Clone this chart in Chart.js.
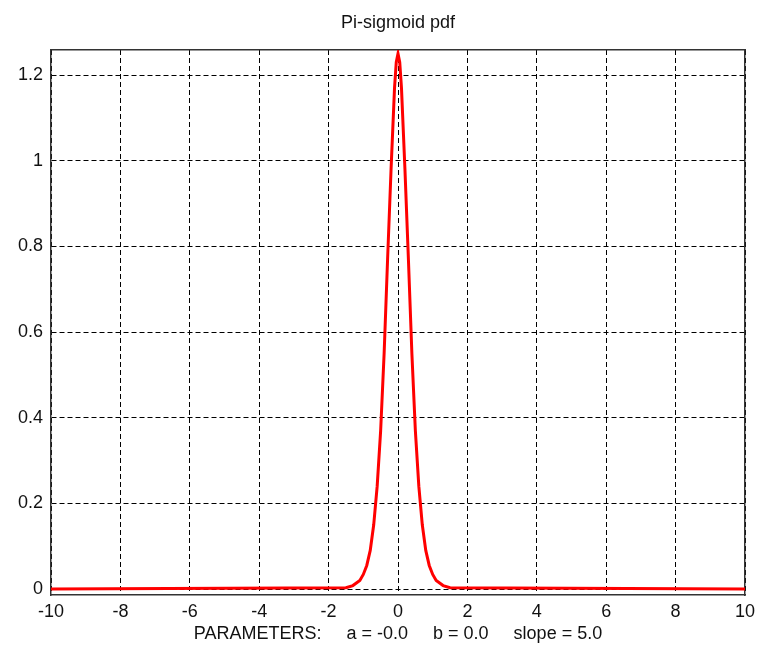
<!DOCTYPE html>
<html>
<head>
<meta charset="utf-8">
<script src="https://cdn.jsdelivr.net/npm/chart.js@4"></script>
<style>
  html, body { margin: 0; padding: 0; background: #fff; }
</style>
</head>
<body>
<canvas id="pdf" width="757" height="653"></canvas>
<script>
// density curve, sampled densely around the peak
const xs = [-10, -1.5, -1.3, -1.1, -1.0, -0.9, -0.8, -0.7, -0.6, -0.5, -0.4, -0.3, -0.2, -0.1, -0.05, 0,
            0.05, 0.1, 0.2, 0.3, 0.4, 0.5, 0.6, 0.7, 0.8, 0.9, 1.0, 1.1, 1.3, 1.5, 10];
const ys = [0, 0.003, 0.008, 0.02, 0.034, 0.055, 0.09, 0.15, 0.24, 0.37, 0.55, 0.77, 0.98, 1.17, 1.23, 1.25,
            1.23, 1.17, 0.98, 0.77, 0.55, 0.37, 0.24, 0.15, 0.09, 0.055, 0.034, 0.02, 0.008, 0.003, 0];

const yTicks = [0, 0.2, 0.4, 0.6, 0.8, 1, 1.2];
const chartTitle = 'Pi-sigmoid pdf';
const paramText = 'PARAMETERS:     a = -0.0     b = 0.0     slope = 5.0';

const fontFamily = "'Liberation Sans', Arial, sans-serif";
const textColor = '#111';
const frameColor = '#333';
const yMin = -0.014, yMax = 1.2585;

const points = xs.map((x, i) => ({ x: x, y: ys[i] }));

new Chart(document.getElementById('pdf'), {
    type: 'line',
    data: {
        datasets: [{
            data: points,
            borderColor: '#ff0000',
            borderWidth: 3,
            pointRadius: 0,
            tension: 0,
            fill: false
        }]
    },
    options: {
        responsive: false,
        animation: false,
        layout: { padding: { left: 0, right: 12, top: 0, bottom: 0 } },
        plugins: {
            legend: { display: false },
            tooltip: { enabled: false }
        },
        scales: {
            x: {
                type: 'linear',
                min: -10,
                max: 10,
                ticks: { stepSize: 2, padding: 6, maxRotation: 0, color: textColor, font: { family: fontFamily, size: 18 } },
                grid: { color: '#000', lineWidth: 1, drawTicks: false },
                border: { color: frameColor, width: 1.5, dash: [5, 3] },
                title: {
                    display: true,
                    text: paramText,
                    color: textColor,
                    font: { family: fontFamily, size: 18 },
                    padding: { top: 0, bottom: 8 }
                },
                // end labels may hang past the frame, don't shrink the plot for them
                afterFit: axis => {
                    axis.height = 58;
                    axis.paddingLeft = 0;
                    axis.paddingRight = 0;
                }
            },
            xTop: {
                type: 'linear',
                position: 'top',
                min: -10,
                max: 10,
                ticks: { display: false },
                grid: { display: false },
                border: { color: frameColor, width: 1.5 },
                title: {
                    display: true,
                    text: chartTitle,
                    color: textColor,
                    font: { family: fontFamily, size: 18 },
                    padding: { top: 12, bottom: 0 }
                },
                afterFit: axis => { axis.height = 50; }
            },
            y: {
                type: 'linear',
                min: yMin,
                max: yMax,
                afterBuildTicks: axis => { axis.ticks = yTicks.map(v => ({ value: v })); },
                ticks: {
                    padding: 8,
                    color: textColor,
                    font: { family: fontFamily, size: 18 },
                    callback: v => String(v)
                },
                grid: { color: '#000', lineWidth: 1, drawTicks: false },
                border: { color: frameColor, width: 1.5, dash: [5, 3] },
                afterFit: axis => { axis.width = 51; }
            },
            yRight: {
                type: 'linear',
                position: 'right',
                min: yMin,
                max: yMax,
                ticks: { display: false },
                grid: { display: false },
                border: { color: frameColor, width: 1.5 },
                afterFit: axis => { axis.width = 0; }
            }
        }
    }
});
</script>
</body>
</html>
